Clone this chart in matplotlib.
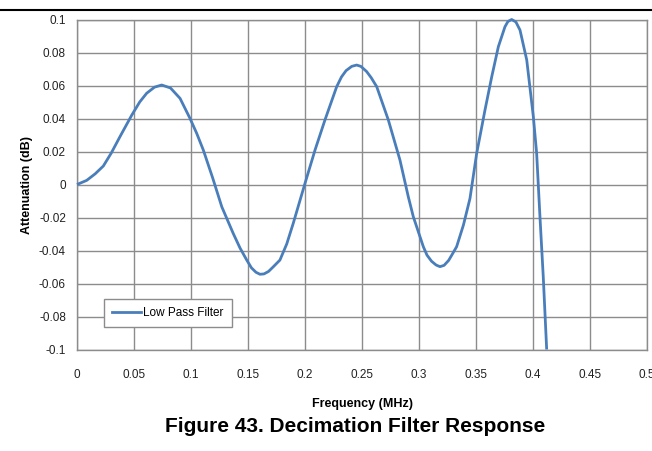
import matplotlib
matplotlib.use("Agg")
import matplotlib.pyplot as plt
from matplotlib.lines import Line2D

freq_mhz = [0.000, 0.0085, 0.016, 0.0231, 0.030, 0.0377, 0.048, 0.055, 0.0611, 0.068,
            0.0743, 0.082, 0.0904, 0.0991, 0.105, 0.1108, 0.1190, 0.127, 0.137, 0.143,
            0.1489, 0.153, 0.157, 0.1605, 0.164, 0.168, 0.172, 0.178, 0.184, 0.1897,
            0.2000, 0.2088, 0.2175, 0.2278, 0.232, 0.236, 0.241, 0.2453, 0.249, 0.254,
            0.258, 0.2629, 0.2731, 0.2833, 0.2906, 0.295, 0.3038, 0.307, 0.311, 0.315,
            0.3184, 0.322, 0.326, 0.329, 0.333, 0.339, 0.3447, 0.3506, 0.3579, 0.3638,
            0.3696, 0.3754, 0.378, 0.3813, 0.3850, 0.3886, 0.3945, 0.4003, 0.4032, 0.4061,
            0.4090, 0.4120]
atten_db = [0.000, 0.0025, 0.0065, 0.0112, 0.019, 0.029, 0.042, 0.050, 0.0553, 0.0590,
            0.0603, 0.0585, 0.0522, 0.0401, 0.0310, 0.0209, 0.0040, -0.0135, -0.0296, -0.0385,
            -0.0458, -0.0505, -0.0532, -0.0544, -0.0542, -0.0527, -0.0500, -0.0458, -0.0360, -0.0235,
            0.0007, 0.0209, 0.0391, 0.0593, 0.0652, 0.0690, 0.0716, 0.0724, 0.0716, 0.0685,
            0.0648, 0.0593, 0.0391, 0.0148, -0.0074, -0.0195, -0.0377, -0.0428, -0.0465, -0.0488,
            -0.0498, -0.0490, -0.0460, -0.0425, -0.0377, -0.0245, -0.0085, 0.0189, 0.0452, 0.0653,
            0.0835, 0.0956, 0.0988, 0.1000, 0.0985, 0.0936, 0.0755, 0.0411, 0.0189, -0.0195,
            -0.0559, -0.1000]

x_ticks = [0, 0.05, 0.1, 0.15, 0.2, 0.25, 0.3, 0.35, 0.4, 0.45, 0.5]
x_tick_labels = ["0", "0.05", "0.1", "0.15", "0.2", "0.25", "0.3", "0.35", "0.4", "0.45", "0.5"]
y_ticks = [0.1, 0.08, 0.06, 0.04, 0.02, 0, -0.02, -0.04, -0.06, -0.08, -0.1]
y_tick_labels = ["0.1", "0.08", "0.06", "0.04", "0.02", "0", "-0.02", "-0.04", "-0.06", "-0.08", "-0.1"]

plt.rcParams['font.family'] = ['Liberation Sans', 'DejaVu Sans']

W, H = 652, 451
fig = plt.figure(figsize=(W / 100, H / 100), dpi=100)
ax = fig.add_axes([77 / W, 1 - 349.5 / H, 570 / W, 330 / H])

line_color = '#4a7ebb'
ax.plot(freq_mhz, atten_db, color=line_color, lw=2.0, solid_capstyle='butt',
        solid_joinstyle='round', zorder=3, clip_on=False)

ax.set_xlim(0, 0.5)
ax.set_ylim(-0.1, 0.1)
ax.set_xticks(x_ticks)
ax.set_xticklabels(x_tick_labels)
ax.set_yticks(y_ticks)
ax.set_yticklabels(y_tick_labels)
ax.tick_params(axis='both', length=0, labelsize=8.5, colors='#222222')
ax.tick_params(axis='x', pad=14)
ax.tick_params(axis='y', pad=8)
ax.grid(True, color='#8c8c8c', lw=1.0)
ax.set_axisbelow(True)
for s in ax.spines.values():
    s.set_color('#8c8c8c')
    s.set_linewidth(1.0)

ax.set_xlabel("Frequency (MHz)", fontsize=9, fontweight='bold', labelpad=12)
ax.set_ylabel("Attenuation (dB)", fontsize=9, fontweight='bold', labelpad=4)

handle = Line2D([], [], color=line_color, lw=2.0)
leg = ax.legend([handle], ["Low Pass Filter"], loc='lower left',
                bbox_to_anchor=(21 / 570, 17 / 330), fontsize=8.5, frameon=True,
                fancybox=False, framealpha=1, edgecolor='#8c8c8c',
                handlelength=2.5, handletextpad=0.2, borderpad=0.65)
leg.get_frame().set_linewidth(1.0)

fig.add_artist(Line2D([0, 1], [1 - 10 / H, 1 - 10 / H], color='black', lw=1.5,
                      transform=fig.transFigure))
fig.text(355 / W, 1 - 426 / H, "Figure 43. Decimation Filter Response",
         ha='center', va='center', fontsize=15, fontweight='bold')

fig.savefig("out.png", dpi=100)
